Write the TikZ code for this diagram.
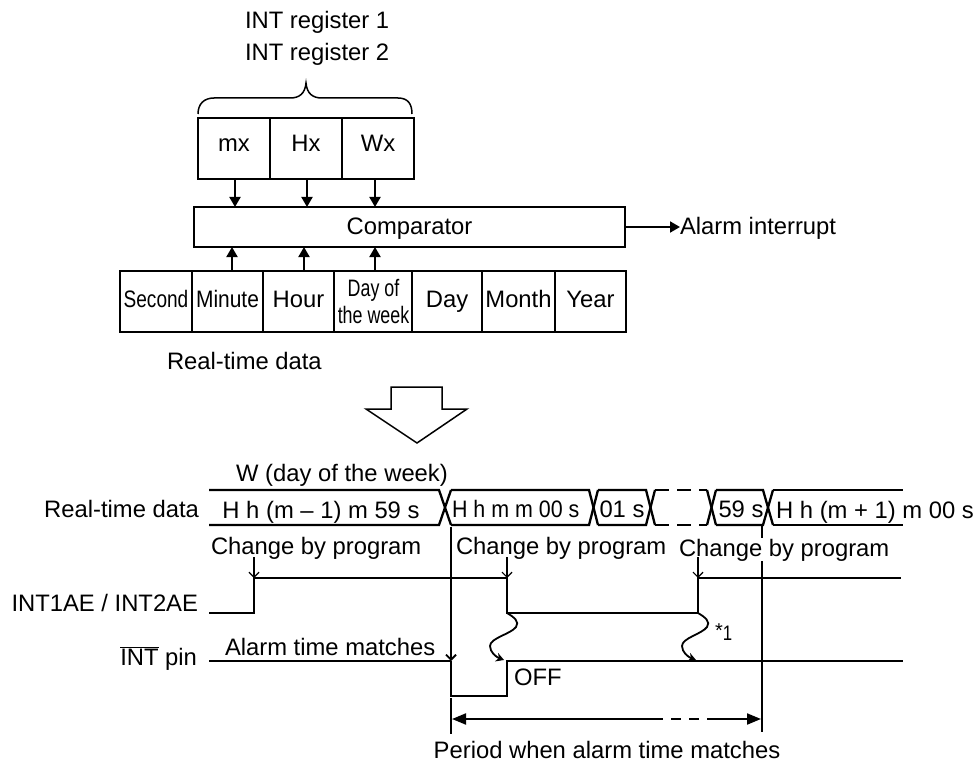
\documentclass[tikz,border=0pt]{standalone}
\usepackage{fontspec}
\setmainfont{Liberation Sans}
\usetikzlibrary{arrows.meta}
\newcommand{\sq}[2]{\scalebox{#1}[1]{#2}}
\tikzset{
  lbl/.style={inner sep=0pt,outer sep=0pt,anchor=base west,font=\fontsize{23.8}{27}\selectfont,text=black},
  clbl/.style={lbl,anchor=base},
  rlbl/.style={lbl,anchor=base east},
  cell/.style={draw=black,line width=1.7pt,inner sep=0pt,outer sep=0pt,font=\fontsize{23.8}{27}\selectfont},
  regcell/.style={cell,minimum height=61pt,text height=10pt,text depth=3.4pt},
  datacell/.style={cell,minimum height=61pt,text height=15pt,text depth=3pt},
  conn/.style={line width=2pt,-{Triangle[length=10pt,width=11pt]}},
  sig/.style={line width=2.3pt,line join=miter},
  prog/.style={line width=1.2pt,-{Straight Barb[length=5pt,width=10pt]}},
  wig/.style={line width=1.8pt,-{Stealth[length=8pt,width=9pt]}},
}
\begin{document}
\begin{tikzpicture}[x=1pt,y=-1pt]
\useasboundingbox (0,0) rectangle (977,762);
% Header
\node[lbl] (r1) at (245,29) {INT register 1};
\node[lbl] (r2) at (245,61) {INT register 2};
\draw[line width=1.5pt] (198,114) .. controls (198,104) and (204,98) .. (214,98) -- (290,98)
  .. controls (299,98) and (305,94) .. (306,83) .. controls (307,94) and (313,98) .. (322,98)
  -- (398,98) .. controls (408,98) and (412,104) .. (412,114);
% Registers
\node[regcell,minimum width=72pt] (mx) at (234,148.5) {mx};
\node[regcell,minimum width=72pt] (hx) at (306,148.5) {Hx};
\node[regcell,minimum width=72pt] (wx) at (378,148.5) {Wx};
% Comparator
\node[cell,line width=1.4pt,minimum width=431pt,minimum height=40pt,text height=17pt,text depth=3pt] (cmp) at (409.5,227) {Comparator};
\node[lbl] (alarm) at (680,235) {Alarm interrupt};
\draw[conn] (cmp.east) -- (alarm.west |- cmp.east);
% Data row
\node[datacell,minimum width=72pt] (sec) at (156,301.5) {\sq{.8}{Second}};
\node[datacell,minimum width=71pt] (min) at (227.5,301.5) {\sq{.88}{Minute}};
\node[datacell,minimum width=71pt] (hour) at (298.5,301.5) {Hour};
\node[cell,minimum width=78pt,minimum height=61pt] (dow) at (373,301.5) {};
\node[lbl,anchor=center,align=center] (dowt) at (373.5,301.5) {\sq{.75}{Day of}\\[-.5pt]\sq{.75}{the week}};
\node[datacell,minimum width=70pt] (day) at (447,301.5) {Day};
\node[datacell,minimum width=73pt] (mon) at (518.5,301.5) {Month};
\node[datacell,minimum width=71pt] (year) at (590.5,301.5) {Year};
\node[lbl] (rtd) at (167,369) {Real-time data};
% Arrows register -> comparator
\draw[conn] ([xshift=1pt]mx.south) -- ([xshift=1pt]mx.south |- cmp.north);
\draw[conn] ([xshift=1pt]hx.south) -- ([xshift=1pt]hx.south |- cmp.north);
\draw[conn] ([xshift=-3pt]wx.south) -- ([xshift=-3pt]wx.south |- cmp.north);
% Arrows data -> comparator
\draw[conn] ([xshift=4.5pt]min.north) -- ([xshift=4.5pt]min.north |- cmp.south);
\draw[conn] ([xshift=5.5pt]hour.north) -- ([xshift=5.5pt]hour.north |- cmp.south);
\draw[conn] ([xshift=2pt]dow.north) -- ([xshift=2pt]dow.north |- cmp.south);
% Big arrow
\draw[line width=1.5pt,line join=miter] (391,387) -- (442,387) -- (442,409) -- (467,409) -- (417,443) -- (366,409) -- (391,409) -- cycle;
% Bus
\node[clbl] (w) at (342,481) {W (day of the week)};
\draw[sig] (209,490) -- (439,490) -- (451,525);
\draw[sig] (209,525) -- (439,525) -- (451,490);
\draw[sig] (451,490) -- (589,490) -- (598,525);
\draw[sig] (451,525) -- (589,525) -- (598,490);
\draw[sig] (598,490) -- (646,490) -- (655,525);
\draw[sig] (598,525) -- (646,525) -- (655,490);
\draw[sig,dash pattern=on 14pt off 8pt] (655,490) -- (707,490);
\draw[sig,dash pattern=on 14pt off 8pt] (655,525) -- (707,525);
\draw[sig] (707,490) -- (716,525);
\draw[sig] (707,525) -- (716,490);
\draw[sig] (716,490) -- (763,490) -- (773,525);
\draw[sig] (716,525) -- (763,525) -- (773,490);
\draw[sig] (773,490) -- (903,490);
\draw[sig] (773,525) -- (903,525);
\node[rlbl] (rtd2) at (199,517) {Real-time data};
\node[clbl] (b1) at (321,518) {H h (m -- 1) m 59 s};
\node[lbl] (b2) at (452,517) {\sq{.9}{H h m m 00 s}};
\node[clbl] (b3) at (622,517) {01 s};
\node[clbl] (b4) at (741,517) {59 s};
\node[clbl] (b5) at (875,518) {H h (m + 1) m 00 s};
% Change by program
\node[lbl] (c1) at (211,554) {Change by program};
\node[lbl] (c2) at (456,554) {Change by program};
\node[lbl] (c3) at (679,556) {Change by program};
\coordinate (p1t) at (254,557); \coordinate (p1b) at (254,578);
\coordinate (p2t) at (507,557); \coordinate (p2b) at (507,578);
\coordinate (p3t) at (698,557); \coordinate (p3b) at (698,578);
\draw[prog] (p1t) -- (p1b);
\draw[prog] (p2t) -- (p2b);
\draw[prog] (p3t) -- (p3b);
% INT1AE
\node[rlbl] (ae) at (198,611) {INT1AE / INT2AE};
\draw[sig] (209,613) -- (254,613) -- (254,578) -- (507,578) -- (507,613) -- (698,613) -- (698,578) -- (901,578);
% INT pin
\node[rlbl] (pin) at (197,665) {$\overline{\mbox{INT}}$ pin};
\node[lbl] (atm) at (225,655) {Alarm time matches};
\draw[sig] (209,661) -- (451,661);
\draw[sig] (451,661) -- (451,696) -- (507,696) -- (507,661) -- (903,661);
\draw[prog,line width=1.8pt] (451,527) -- (451,661);
\node[lbl] (off) at (514,685) {OFF};
\node[lbl] (star) at (715,640) {\raisebox{3pt}{\fontsize{20}{20}\selectfont *}\sq{.8}{\fontsize{21}{21}\selectfont 1}};
% Wiggles
\draw[wig] (507,613) .. controls (514,617) and (520,622) .. (516,627) .. controls (511,634) and (490,638) .. (490,646) .. controls (490,652) and (496,657) .. (504,660);
\draw[wig] (698,613) .. controls (705,617) and (711,622) .. (707,627) .. controls (702,634) and (682,638) .. (682,646) .. controls (682,652) and (688,657) .. (696,660);
% Period
\draw[line width=1.5pt] (451,698) -- (451,734);
\draw[line width=1.5pt] (762,525) -- (762,538);
\draw[line width=1.5pt] (762,561) -- (762,732);
\draw[line width=2pt,{Triangle[length=14pt,width=11pt]}-] (452,719) -- (653,719);
\draw[line width=1.5pt,dash pattern=on 10pt off 8pt] (653,719) -- (710,719);
\draw[line width=2pt,-{Triangle[length=14pt,width=11pt]}] (710,719) -- (761,719);
\node[clbl] (per) at (607,758) {Period when alarm time matches};
\end{tikzpicture}
\end{document}
